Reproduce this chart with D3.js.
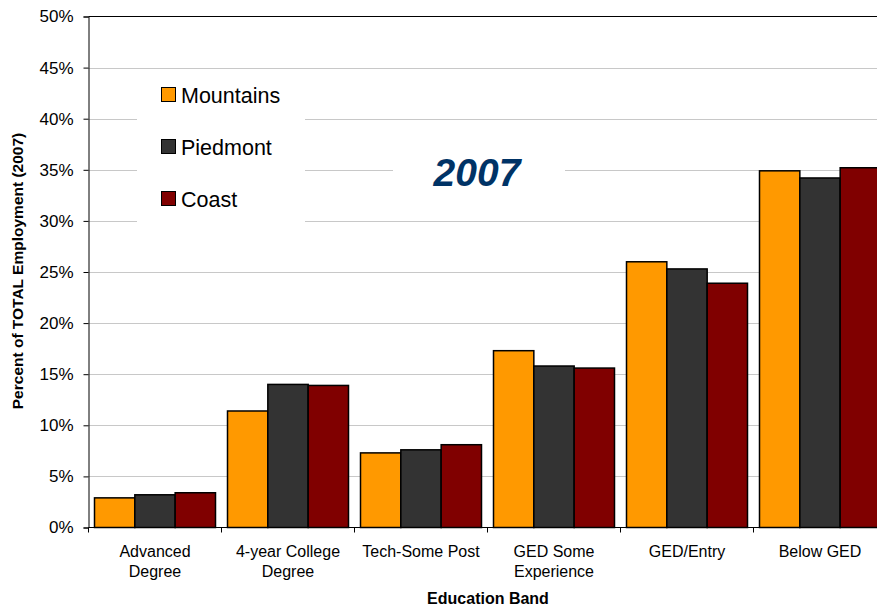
<!DOCTYPE html>
<html><head><meta charset="utf-8">
<script src="https://cdn.jsdelivr.net/npm/d3@7"></script>
<style>body{margin:0;background:#fff}svg{display:block;font-family:"Liberation Sans",Arial,sans-serif}</style>
</head><body><svg id="c" width="877" height="610"></svg>
<script>
const categories = [["Advanced","Degree"],["4-year College","Degree"],["Tech-Some Post"],["GED Some","Experience"],["GED/Entry"],["Below GED"]];
const seriesNames = ["Mountains","Piedmont","Coast"];
const mountains = [2.9, 11.4, 7.3, 17.3, 26.0, 34.9];
const piedmont  = [3.2, 14.0, 7.6, 15.8, 25.3, 34.2];
const coast     = [3.4, 13.9, 8.1, 15.6, 23.9, 35.2];
const yTicks = [0,5,10,15,20,25,30,35,40,45,50];
const colors = ["#FF9900","#333333","#800000"];
const chartTitle = "2007";
const series = [mountains, piedmont, coast];

const svg = d3.select("#c");
const pL = 88.5, pR = 886.5, pT = 16.5, pB = 527.5;
const x = d3.scaleBand().domain(d3.range(categories.length)).range([pL, pR]).padding(0);
const xs = d3.scaleBand().domain(d3.range(3)).range([6, x.bandwidth()-6]).padding(0);
const y = d3.scaleLinear().domain([0,50]).range([pB, pT]);

// gridlines
svg.append("g").selectAll("line").data(yTicks.filter(t=>t>0&&t<50)).join("line")
  .attr("x1",pL).attr("x2",877).attr("y1",d=>Math.round(y(d))+0.5).attr("y2",d=>Math.round(y(d))+0.5)
  .attr("stroke","#c8c8c8").attr("stroke-width",1);
// top border
svg.append("line").attr("x1",pL).attr("x2",877).attr("y1",pT).attr("y2",pT).attr("stroke","#000");

// bars
const g = svg.append("g");
series.forEach((s,si)=>{
  g.selectAll(null).data(s).join("rect")
    .attr("x",(d,i)=>x(i)+xs(si))
    .attr("y",d=>y(d))
    .attr("width",xs.bandwidth())
    .attr("height",d=>y(0)-y(d))
    .attr("fill",colors[si]).attr("stroke","#000").attr("stroke-width",1.5);
});

// legend box and title box (white, hide gridlines)
svg.append("rect").attr("x",137).attr("y",76).attr("width",168).attr("height",154).attr("fill","#fff");
svg.append("rect").attr("x",393).attr("y",140).attr("width",172).attr("height",62).attr("fill","#fff");
const leg = svg.append("g");
seriesNames.forEach((n,i)=>{
  const cy = 95 + i*52;
  leg.append("rect").attr("x",161.5).attr("y",cy-7.5).attr("width",14).attr("height",14)
    .attr("fill",colors[i]).attr("stroke","#000").attr("stroke-width",1);
  leg.append("text").attr("x",181).attr("y",cy+7.5).attr("font-size",21.5).attr("fill","#000").text(n);
});
svg.append("text").attr("x",477).attr("y",186).attr("text-anchor","middle")
  .attr("font-size",39).attr("font-weight","bold").attr("font-style","italic").attr("fill","#003366").text(chartTitle);

// y axis
const ya = d3.axisLeft(y).tickValues(yTicks).tickSize(5).tickFormat(d=>d+"%");
const yg = svg.append("g").attr("transform",`translate(${pL},0)`).call(ya);
yg.select(".domain").attr("stroke","#000");
yg.selectAll("text").attr("font-size",17).attr("fill","#000").attr("x",-15).attr("font-family","Liberation Sans, Arial, sans-serif");

// x axis
svg.append("line").attr("x1",pL).attr("x2",877).attr("y1",pB).attr("y2",pB).attr("stroke","#000");
svg.append("g").selectAll("line").data(d3.range(categories.length+1)).join("line")
  .attr("x1",i=>pL+i*x.bandwidth()).attr("x2",i=>pL+i*x.bandwidth())
  .attr("y1",pB).attr("y2",pB+5).attr("stroke","#000");
const xl = svg.append("g");
categories.forEach((lines,i)=>{
  const t = xl.append("text").attr("x",x(i)+x.bandwidth()/2).attr("text-anchor","middle").attr("font-size",16).attr("fill","#000");
  lines.forEach((l,j)=>t.append("tspan").attr("x",x(i)+x.bandwidth()/2).attr("y",557+j*20).text(l));
});

// axis titles
svg.append("text").attr("x",488).attr("y",604).attr("text-anchor","middle").attr("font-size",16).attr("font-weight","bold").text("Education Band");
svg.append("text").attr("transform","translate(23,271) rotate(-90)").attr("text-anchor","middle").attr("font-size",15.5).attr("font-weight","bold").text("Percent of TOTAL Employment (2007)");
</script></body></html>
